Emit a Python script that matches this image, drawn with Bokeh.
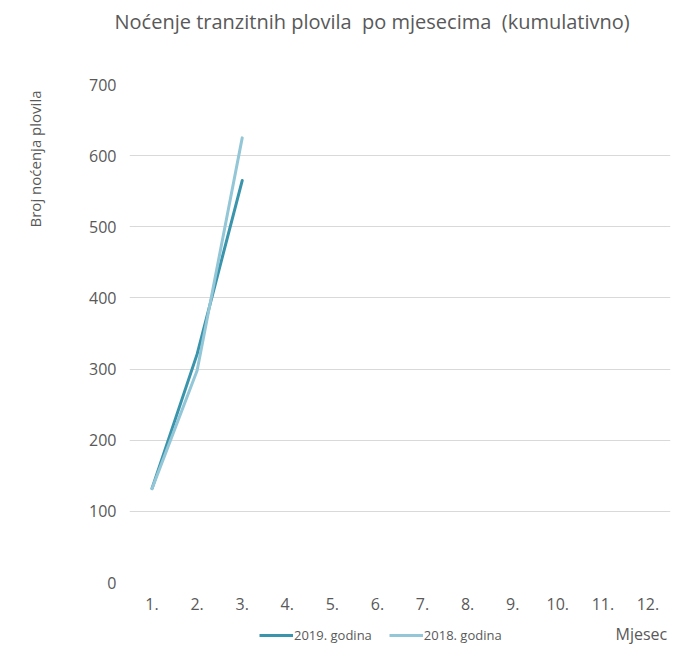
from bokeh.plotting import figure
from bokeh.layouts import column
from bokeh.models import Range1d, FixedTicker, Legend, LegendItem, Title, Label
from bokeh.embed import file_html
from bokeh.resources import INLINE

months = [1, 2, 3, 4, 5, 6, 7, 8, 9, 10, 11, 12]
month_labels = ["1.", "2.", "3.", "4.", "5.", "6.", "7.", "8.", "9.", "10.", "11.", "12."]
x_2019 = [1, 2, 3]
y_2019 = [132, 321, 565]
x_2018 = [1, 2, 3]
y_2018 = [132, 298, 625]
y_ticks = [0, 100, 200, 300, 400, 500, 600, 700]
title_text = "Noćenje tranzitnih plovila\u00a0 po mjesecima\u00a0 (kumulativno)"
y_title = "Broj noćenja plovila"
x_title = "Mjesec"
series_names = ["2019. godina", "2018. godina"]

FONT = "Open Sans"
GREY = "#595959"
C2019 = "#3A94AB"
C2018 = "#93C6D6"

p = figure(width=673, height=624, output_backend="svg", toolbar_location=None,
           x_range=Range1d(0.5, 12.5), y_range=Range1d(0, 700),
           min_border_left=122, min_border_right=3, min_border_top=84, min_border_bottom=42)
p.outline_line_color = None
p.background_fill_color = "white"
p.border_fill_color = "white"

r19 = p.line(x_2019, y_2019, line_color=C2019, line_width=3, line_cap="round", line_join="round")
r18 = p.line(x_2018, y_2018, line_color=C2018, line_width=3, line_cap="round", line_join="round")

p.title = Title(text=title_text + "\n\u00a0\n\u00a0", align="left", offset=-15, standoff=0,
                text_font=FONT, text_font_size="20px", text_line_height=0.92,
                text_font_style="normal", text_color=GREY)

p.xgrid.grid_line_color = None
p.ygrid.grid_line_color = "#D9D9D9"
p.ygrid.grid_line_width = 1

p.yaxis.ticker = FixedTicker(ticks=y_ticks)
p.yaxis.axis_line_color = None
p.yaxis.major_tick_line_color = None
p.yaxis.major_tick_out = 0
p.yaxis.major_tick_in = 0
p.yaxis.minor_tick_line_color = None
p.yaxis.major_label_text_font = FONT
p.yaxis.major_label_text_font_size = "16px"
p.yaxis.major_label_text_color = GREY
p.yaxis.major_label_standoff = 13

ytitle = Title(text=y_title + "\n\u00a0", align="right", offset=6, standoff=44,
               text_font=FONT, text_font_size="15px",
               text_font_style="normal", text_color=GREY)
p.add_layout(ytitle, "left")

p.xaxis.ticker = FixedTicker(ticks=months)
p.xaxis.major_label_overrides = {m: l for m, l in zip(months, month_labels)}
p.xaxis.axis_line_color = None
p.xaxis.major_tick_line_color = None
p.xaxis.major_tick_out = 0
p.xaxis.major_tick_in = 0
p.xaxis.minor_tick_line_color = None
p.xaxis.major_label_text_font = FONT
p.xaxis.major_label_text_font_size = "16px"
p.xaxis.major_label_text_color = GREY
p.xaxis.major_label_standoff = 15

# legend strip below the chart (its frame is aligned with the chart's frame)
p2 = figure(width=673, height=21, output_backend="svg", toolbar_location=None,
            x_range=Range1d(0.5, 12.5), y_range=Range1d(-2, -1),
            x_axis_location=None, y_axis_location=None,
            min_border_left=0, min_border_right=0, min_border_top=0, min_border_bottom=0)
p2.outline_line_color = None
p2.grid.visible = False
p2.background_fill_color = "white"
p2.border_fill_color = "white"
l19 = p2.line(x_2019, y_2019, line_color=C2019, line_width=3)
l18 = p2.line(x_2018, y_2018, line_color=C2018, line_width=3)

legend = Legend(items=[LegendItem(label=series_names[0], renderers=[l19]),
                       LegendItem(label=series_names[1], renderers=[l18])],
                orientation="horizontal", location=(130, 1),
                label_text_font=FONT, label_text_font_size="13px", label_text_color=GREY,
                glyph_width=34, glyph_height=14, label_height=14, label_standoff=1,
                spacing=17, padding=0, margin=0, border_line_color=None,
                background_fill_alpha=0)
p2.add_layout(legend, "center")

p2.add_layout(Label(x=486, y=12, x_units="screen", y_units="screen", text=x_title,
                    text_font=FONT, text_font_size="16px", text_color=GREY,
                    text_baseline="middle", text_align="left"))

layout = column(p, p2, spacing=0)
open("out.html", "w").write(file_html(layout, INLINE))
